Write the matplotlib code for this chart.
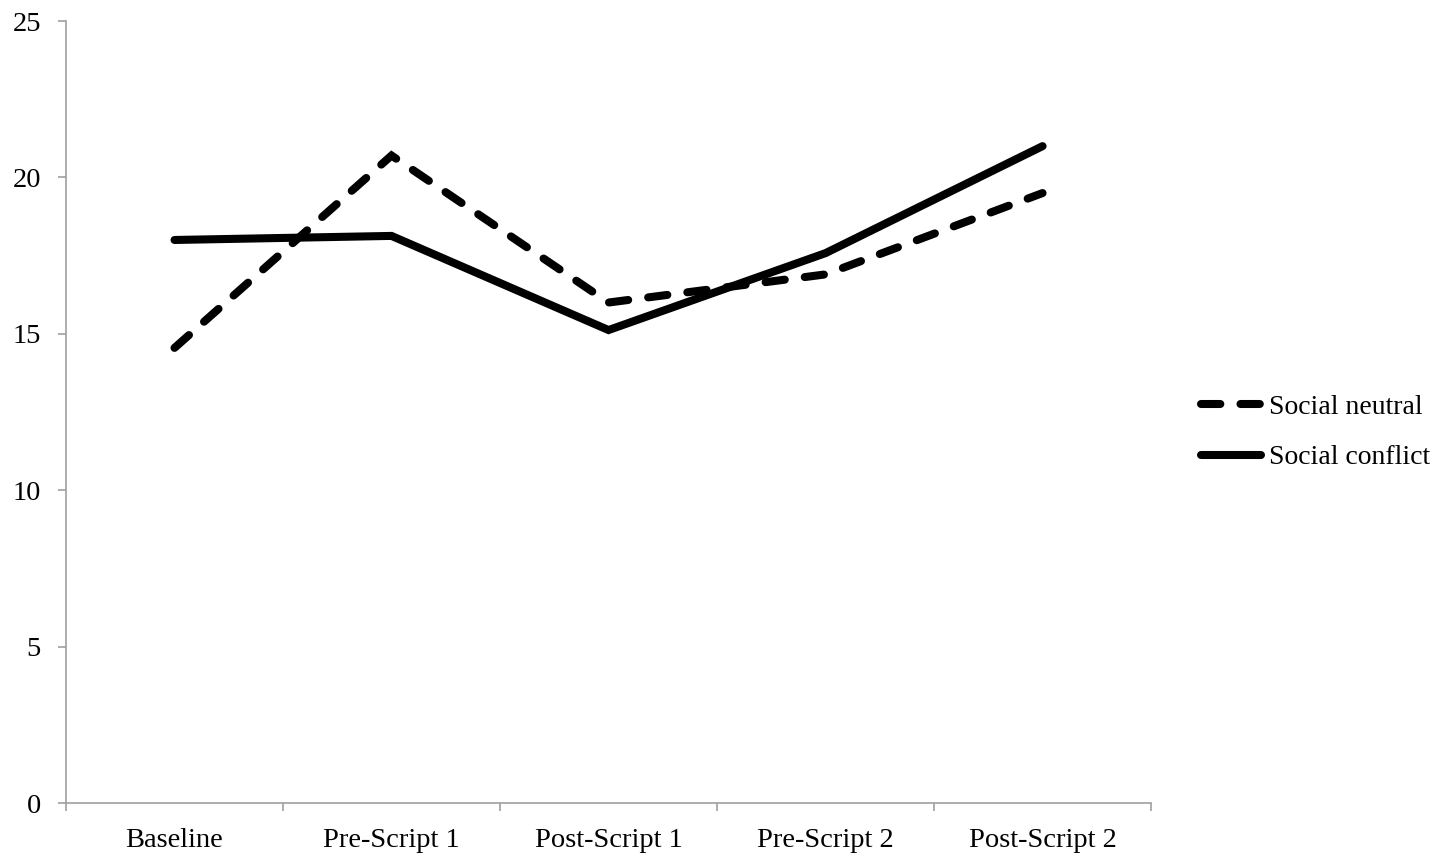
import matplotlib
matplotlib.use("Agg")
import matplotlib.pyplot as plt

# Values
conditions = ["Baseline", "Pre-Script 1", "Post-Script 1", "Pre-Script 2", "Post-Script 2"]
social_neutral = [14.55, 20.7, 16.0, 16.9, 19.5]
social_conflict = [18.0, 18.13, 15.12, 17.58, 21.0]
y_ticks = [0, 5, 10, 15, 20, 25]

plt.rcParams['font.family'] = ['Liberation Serif', 'DejaVu Serif']

fig = plt.figure(figsize=(14.41, 8.58), dpi=100)
ax = fig.add_axes([0.0458, 0.0641, 0.7530, 0.9114])

x = list(range(len(conditions)))
ax.plot(x, social_neutral, color='black', linewidth=5.8, linestyle=(0, (2.4, 2.5)),
        dash_capstyle='round', dash_joinstyle='miter', label='Social neutral')
ax.plot(x, social_conflict, color='black', linewidth=5.8, solid_capstyle='round',
        solid_joinstyle='miter', label='Social conflict')

ax.set_xlim(-0.5, len(conditions) - 0.5)
ax.set_ylim(0, 25)
ax.set_yticks(y_ticks)
ax.set_xticks(x)
ax.set_xticklabels(conditions)
ax.set_xticks([i - 0.5 for i in range(len(conditions) + 1)], minor=True)
ax.tick_params(axis='x', which='major', length=0, pad=18, labelsize=20.5)
ax.tick_params(axis='x', which='minor', length=6, color='#a0a0a0', width=1.2)
ax.tick_params(axis='y', length=6, color='#a0a0a0', width=1.2, pad=12, labelsize=20.5)

for side in ['top', 'right']:
    ax.spines[side].set_visible(False)
for side in ['left', 'bottom']:
    ax.spines[side].set_color('#a0a0a0')
    ax.spines[side].set_linewidth(1.2)

fig.legend(loc='center left', bbox_to_anchor=(0.816, 0.496), frameon=False,
           fontsize=20, handlelength=2.15, handletextpad=0.3, labelspacing=0.9)

fig.savefig("out.png", dpi=100)
